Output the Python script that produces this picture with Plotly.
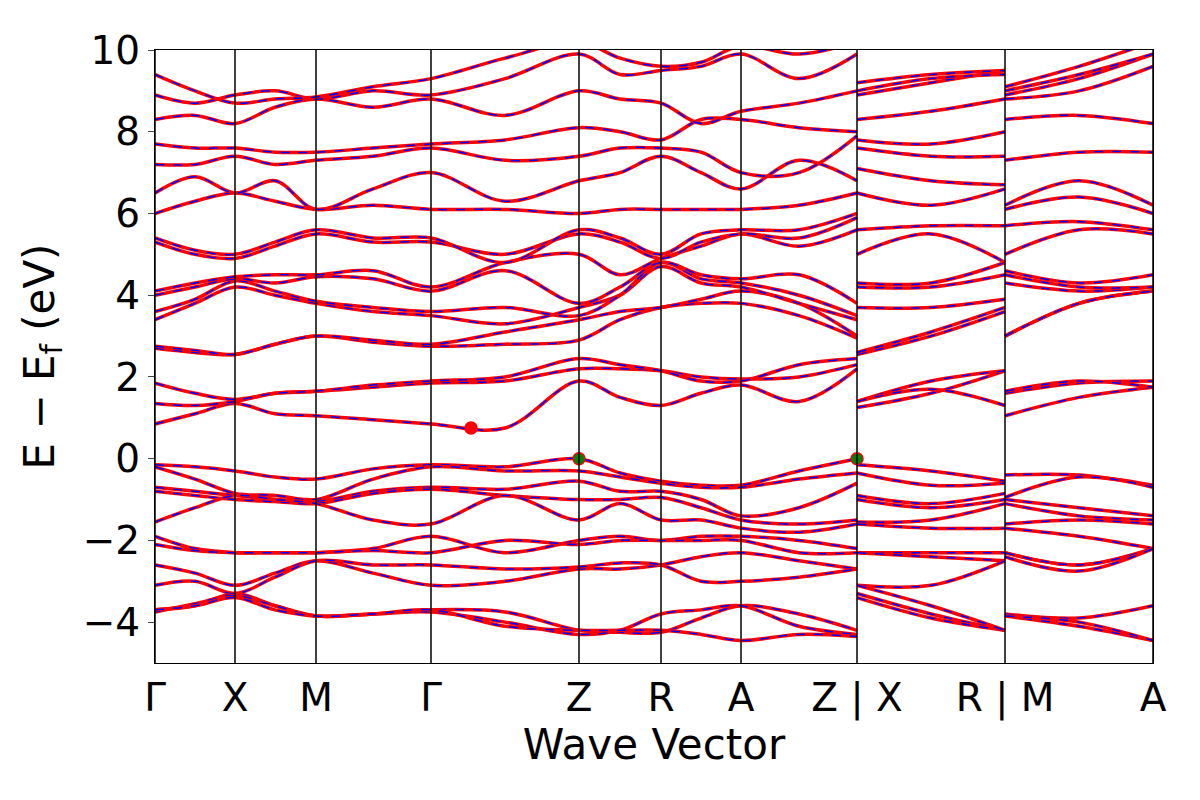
import plotly.graph_objects as go

# k-path nodes (Γ..Z, then X..R, then M..A), midpoints between high-symmetry points
k_seg1 = [0, 0.40, 0.80, 1.20, 1.61, 2.18, 2.76, 3.50, 4.24, 4.65, 5.06, 5.46, 5.86, 6.44, 7.02]
k_seg2 = [7.02, 7.76, 8.50]
k_seg3 = [8.50, 9.24, 9.98]
tick_pos = [0, 0.80, 1.61, 2.76, 4.24, 5.06, 5.86, 7.02, 8.50, 9.98]
tick_labels = ["Γ", "X", "M", "Γ", "Z", "R", "A", "Z | X", "R | M", "A"]

# band energies (eV) at each node: 15 for seg1, 3 for seg2, 3 for seg3
bands = [
    [-0.15, -0.2, -0.3, -0.45, -0.5, -0.25, -0.15, -0.2, 0.0, -0.35, -0.55, -0.65, -0.65, -0.3, 0.0, -0.15, -0.3, -0.55, -0.4, -0.4, -0.65],
    [-0.2, -0.5, -0.85, -0.9, -1.0, -0.5, -0.2, -0.3, -0.3, -0.45, -0.6, -0.7, -0.7, -0.5, -0.35, -0.35, -0.65, -0.6, -0.95, -0.45, -0.7],
    [-0.7, -0.8, -0.9, -1.0, -1.05, -0.8, -0.7, -0.75, -0.55, -0.8, -0.8, -1.0, -1.4, -1.2, -0.6, -0.9, -1.1, -0.85, -1.0, -1.2, -1.4],
    [-0.8, -0.9, -1.0, -1.05, -1.1, -0.85, -0.75, -0.9, -1.0, -1.0, -0.95, -1.2, -1.5, -1.6, -1.5, -1.0, -1.2, -1.0, -1.1, -1.4, -1.5],
    [-1.55, -1.2, -0.9, -1.0, -1.1, -1.5, -1.6, -0.9, -1.5, -1.1, -1.5, -1.5, -1.7, -1.8, -1.6, -1.55, -1.5, -1.1, -1.6, -1.5, -1.6],
    [-1.9, -2.2, -2.3, -2.3, -2.3, -2.2, -1.9, -2.3, -2.0, -1.9, -2.0, -1.9, -1.9, -2.0, -2.2, -1.6, -1.7, -1.7, -1.7, -1.9, -2.2],
    [-2.1, -2.25, -2.3, -2.3, -2.3, -2.25, -2.3, -2.0, -2.1, -2.0, -2.0, -2.0, -2.0, -2.3, -2.3, -2.3, -2.3, -2.3, -2.3, -2.6, -2.2],
    [-2.6, -2.8, -3.1, -2.8, -2.5, -2.8, -3.1, -3.0, -2.7, -2.7, -2.6, -2.4, -2.3, -2.5, -2.7, -2.3, -2.4, -2.5, -2.3, -2.6, -2.2],
    [-3.1, -3.0, -3.3, -2.9, -2.5, -2.6, -2.6, -2.7, -2.65, -2.55, -2.6, -3.0, -3.0, -2.9, -2.7, -3.1, -3.1, -2.5, -2.4, -2.75, -2.2],
    [-3.7, -3.6, -3.3, -3.6, -3.85, -3.8, -3.7, -3.75, -4.2, -4.25, -4.25, -3.9, -3.6, -3.8, -4.2, -3.3, -3.8, -4.2, -3.8, -3.9, -3.6],
    [-3.75, -3.55, -3.35, -3.6, -3.85, -3.8, -3.75, -4.0, -4.3, -4.2, -3.8, -3.7, -3.6, -4.1, -4.3, -3.4, -3.9, -4.2, -3.85, -4.1, -4.45],
    [-3.7, -3.6, -3.4, -3.7, -3.85, -3.8, -3.7, -4.1, -4.2, -4.2, -4.2, -4.3, -4.45, -4.3, -4.35, -3.1, -3.6, -4.2, -3.85, -4.0, -4.45],
    [0.85, 1.1, 1.35, 1.1, 1.05, 0.95, 0.85, 0.75, 1.9, 1.5, 1.3, 1.6, 1.8, 1.4, 2.2, 1.25, 1.6, 2.15, 1.05, 1.5, 1.75],
    [1.35, 1.3, 1.4, 1.6, 1.65, 1.75, 1.85, 1.9, 2.2, 2.2, 2.15, 2.0, 1.95, 2.0, 2.3, 1.4, 1.9, 2.15, 1.6, 1.85, 1.9],
    [1.85, 1.6, 1.45, 1.6, 1.65, 1.8, 1.9, 2.0, 2.45, 2.3, 2.15, 1.9, 1.9, 2.3, 2.45, 1.4, 1.7, 1.3, 1.65, 1.9, 1.75],
    [2.7, 2.6, 2.55, 2.8, 3.0, 2.85, 2.75, 2.8, 2.9, 3.4, 3.7, 3.8, 3.8, 3.5, 2.95, 2.55, 3.0, 3.6, 3.0, 3.8, 4.1],
    [2.75, 2.65, 2.55, 2.8, 3.0, 2.9, 2.8, 3.1, 3.4, 3.6, 3.7, 3.9, 4.1, 3.8, 3.0, 2.6, 3.1, 3.7, 3.0, 3.8, 4.1],
    [3.4, 3.8, 4.2, 4.0, 3.8, 3.6, 3.5, 3.3, 3.7, 4.0, 4.7, 4.3, 4.2, 3.8, 3.4, 3.7, 3.7, 3.9, 4.3, 4.1, 4.2],
    [3.6, 3.9, 4.35, 4.1, 3.85, 3.7, 3.6, 3.7, 3.5, 4.0, 4.8, 4.4, 4.3, 4.0, 3.5, 4.2, 4.2, 4.5, 4.5, 4.2, 4.2],
    [4.0, 4.2, 4.4, 4.3, 4.45, 4.4, 4.1, 4.6, 3.8, 4.2, 4.8, 4.5, 4.4, 4.5, 3.8, 4.3, 4.3, 4.8, 4.6, 4.3, 4.5],
    [4.1, 4.3, 4.45, 4.5, 4.5, 4.6, 4.2, 4.8, 5.0, 4.5, 4.9, 5.2, 5.5, 5.2, 5.6, 5.0, 5.5, 4.8, 5.0, 5.6, 5.5],
    [5.3, 5.0, 4.9, 5.2, 5.5, 5.3, 5.3, 5.0, 5.5, 5.3, 4.9, 5.3, 5.5, 5.4, 5.9, 5.6, 5.7, 5.7, 5.7, 5.8, 5.6],
    [5.4, 5.1, 5.0, 5.3, 5.6, 5.4, 5.4, 4.8, 5.6, 5.4, 5.0, 5.5, 5.6, 5.6, 6.0, 6.5, 6.2, 6.6, 6.1, 6.4, 6.0],
    [6.0, 6.3, 6.5, 6.3, 6.1, 6.2, 6.1, 6.1, 6.0, 6.1, 6.1, 6.1, 6.1, 6.2, 6.5, 7.1, 6.8, 6.7, 6.2, 6.8, 6.2],
    [6.5, 6.9, 6.5, 6.8, 6.1, 6.6, 7.0, 6.3, 6.8, 7.0, 7.4, 7.0, 6.6, 7.3, 6.8, 7.6, 7.4, 7.4, 7.3, 7.5, 7.5],
    [7.2, 7.2, 7.4, 7.2, 7.3, 7.4, 7.6, 7.3, 7.4, 7.6, 7.6, 7.5, 7.0, 7.0, 7.9, 7.8, 7.7, 8.0, 8.3, 8.4, 8.2],
    [7.7, 7.6, 7.6, 7.5, 7.5, 7.6, 7.7, 7.8, 8.1, 8.0, 7.8, 8.3, 8.3, 8.1, 8.0, 8.3, 8.5, 8.8, 8.8, 9.0, 9.6],
    [8.3, 8.4, 8.2, 8.6, 8.8, 8.6, 8.8, 8.4, 9.0, 8.8, 8.7, 8.2, 8.5, 8.7, 9.0, 8.9, 9.2, 9.5, 8.9, 9.3, 9.9],
    [8.9, 8.7, 8.9, 9.0, 8.8, 9.0, 8.9, 9.3, 9.9, 9.4, 9.5, 9.6, 9.9, 9.3, 9.9, 9.0, 9.3, 9.4, 9.0, 9.4, 9.9],
    [9.4, 9.0, 8.7, 8.8, 8.85, 9.1, 9.3, 9.8, 10.2, 9.8, 9.6, 9.7, 10.1, 9.9, 10.2, 9.2, 9.4, 9.5, 9.1, 9.6, 10.2],
]

vbm_k = [4.24, 7.02]
vbm_e = [0.0, 0.0]
cbm_k = [3.16]
cbm_e = [0.75]

fig = go.Figure()

x_all = k_seg1 + [None] + k_seg2 + [None] + k_seg3
for b in bands:
    y_all = b[:15] + [None] + b[15:18] + [None] + b[18:21]
    # spin up (red, solid) and spin down (blue, dashed) overlap
    fig.add_trace(go.Scatter(x=x_all, y=y_all, mode="lines", line=dict(color="red", width=3.5, shape="spline"),
                             showlegend=False, hoverinfo="skip"))
    fig.add_trace(go.Scatter(x=x_all, y=y_all, mode="lines",
                             line=dict(color="blue", width=1.5, dash="dash", shape="spline"),
                             showlegend=False, hoverinfo="skip"))

for t in tick_pos:
    fig.add_vline(x=t, line=dict(color="black", width=1.5))

fig.add_trace(go.Scatter(x=vbm_k, y=vbm_e, mode="markers", showlegend=False,
                         marker=dict(color="green", size=12, line=dict(color="red", width=1.5))))
fig.add_trace(go.Scatter(x=cbm_k, y=cbm_e, mode="markers", showlegend=False,
                         marker=dict(color="red", size=12, line=dict(color="red", width=1.5))))

fig.update_layout(
    width=1200, height=800,
    paper_bgcolor="white", plot_bgcolor="white",
    margin=dict(l=147, r=55, t=42, b=145),
    font=dict(family="DejaVu Sans", size=39, color="black"),
)
fig.update_xaxes(range=[0, 9.98], tickvals=tick_pos, ticktext=tick_labels, showgrid=False,
                 showline=True, linecolor="black", mirror=True, ticks="", zeroline=False,
                 title=dict(text="Wave Vector", font=dict(size=42), standoff=2))
fig.update_yaxes(range=[-5, 10], tickvals=[-4, -2, 0, 2, 4, 6, 8, 10],
                 ticktext=["−4", "−2", "0", "2", "4", "6", "8", "10"], showgrid=False,
                 showline=True, linecolor="black", mirror=True, ticks="outside", ticklen=6,
                 zeroline=False, title=dict(text="E − E<sub>f</sub> (eV)", font=dict(size=42)))

fig.write_html("out.html")
